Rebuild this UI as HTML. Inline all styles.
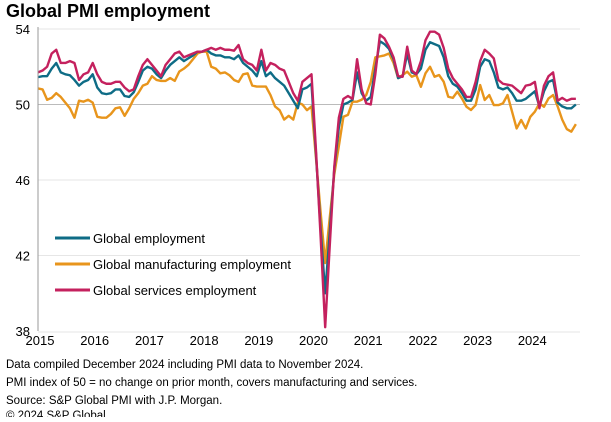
<!DOCTYPE html>
<html><head><meta charset="utf-8"><style>
body{margin:0;width:611px;height:417px;background:#fff;font-family:"Liberation Sans",Arial,sans-serif;overflow:hidden}
</style></head><body>
<svg width="611" height="417" font-family="Liberation Sans, Arial, sans-serif">
<text x="6" y="17" font-size="18" font-weight="bold" fill="#000">Global PMI employment</text>
<g id="grid"></g><g id="series"></g><g id="axes"></g>
<g>
<line x1="55" y1="238" x2="90" y2="238" stroke="#0e6c86" stroke-width="3"/>
<text x="93" y="243" font-size="13">Global employment</text>
<line x1="55" y1="264" x2="90" y2="264" stroke="#e8951c" stroke-width="3"/>
<text x="93" y="269" font-size="13">Global manufacturing employment</text>
<line x1="55" y1="290" x2="90" y2="290" stroke="#c4215e" stroke-width="3"/>
<text x="93" y="295" font-size="13">Global services employment</text>
</g>
<g font-size="11.5" fill="#000">
<text x="6" y="368">Data compiled December 2024 including PMI data to November 2024.</text>
<text x="6" y="386">PMI index of 50 = no change on prior month, covers manufacturing and services.</text>
<text x="6" y="404">Source: S&amp;P Global PMI with J.P. Morgan.</text>
<text x="6" y="419">© 2024 S&amp;P Global.</text>
</g>
</svg>
<script>
const yTicks=[38,42,46,50,54];
const years=["2015","2016","2017","2018","2019","2020","2021","2022","2023","2024"];
const services=[51.7,51.8,52.0,52.7,52.9,52.2,52.2,52.3,52.2,51.3,51.6,51.7,
52.2,51.6,51.2,51.1,51.1,51.2,51.2,50.9,50.7,50.8,51.5,52.1,
52.4,52.1,51.8,51.5,52.1,52.4,52.7,52.8,52.5,52.6,52.7,52.8,
52.8,52.9,53.0,52.9,53.0,52.9,52.9,52.85,53.15,52.4,52.2,52.1,
51.8,52.9,51.8,52.2,52.1,51.9,51.8,51.2,50.6,50.2,51.2,51.4,
51.6,47.5,43.0,38.2,42.5,46.7,49.3,50.3,50.45,50.3,52.4,50.8,
50.06,50.0,51.6,53.7,53.5,53.06,52.5,51.5,51.47,53.06,51.8,51.6,
52.3,53.4,53.86,53.86,53.7,53.0,51.9,51.4,51.1,50.8,50.4,50.4,
51.2,52.3,52.9,52.7,52.44,51.3,51.1,51.05,51.0,50.8,50.6,51.0,
51.05,51.2,49.8,51.0,51.5,51.7,50.2,50.35,50.2,50.3,50.3];
const manufacturing=[50.85,50.8,50.25,50.35,50.6,50.4,50.1,49.8,49.3,50.2,50.15,50.25,
50.1,49.35,49.3,49.3,49.5,49.8,49.85,49.4,49.8,50.3,50.6,51.0,
51.1,51.5,51.3,51.25,51.25,51.4,51.25,51.75,51.9,52.1,52.4,52.7,
52.8,52.8,52.0,51.9,51.65,51.7,51.55,51.3,51.2,51.6,51.65,51.0,
50.95,50.95,50.95,50.5,49.9,49.7,49.2,49.4,49.2,50.1,50.0,49.7,
49.9,47.1,44.3,41.6,44.0,46.3,47.8,49.35,49.45,50.15,50.15,50.25,
50.5,51.2,52.5,52.55,52.6,52.7,52.2,51.4,51.56,51.74,51.47,51.56,
50.94,51.65,52.0,51.47,51.56,51.21,50.41,50.35,50.68,50.32,49.88,49.71,
49.97,51.03,50.24,50.5,49.97,49.97,50.06,50.5,49.62,48.73,49.18,48.73,
49.35,49.62,50.06,49.88,50.32,50.5,49.9,49.2,48.7,48.56,48.96];
const employment=[51.45,51.5,51.5,51.9,52.2,51.7,51.6,51.55,51.3,51.0,51.2,51.3,
51.6,50.9,50.6,50.55,50.6,50.8,50.8,50.45,50.4,50.65,51.2,51.8,
52.0,51.9,51.6,51.4,51.8,52.1,52.3,52.5,52.3,52.45,52.6,52.8,
52.8,52.9,52.7,52.6,52.6,52.5,52.5,52.4,52.6,52.2,52.0,51.8,
51.5,52.3,51.5,51.7,51.4,51.2,51.0,50.6,50.2,49.8,50.8,50.9,
51.1,47.3,43.4,40.0,43.2,46.6,48.8,50.0,50.1,50.25,51.7,50.6,
50.2,50.4,51.9,53.35,53.2,52.95,52.4,51.4,51.5,52.7,51.7,51.6,
51.9,52.9,53.3,53.2,53.1,52.5,51.5,51.1,50.95,50.6,50.2,50.2,
50.8,52.0,52.4,52.3,51.7,50.9,50.8,50.9,50.6,50.2,50.2,50.3,
50.5,50.7,49.9,50.7,51.2,51.3,50.1,49.9,49.8,49.8,50.0];
const NS="http://www.w3.org/2000/svg";
const X0=38,YEARW=54.7,Y54=29,Y38=331,XEND=580;
function xScale(i){return X0+i*YEARW/12;}
function yScale(v){return Y38-(v-38)*(Y38-Y54)/16;}
function mk(t,a,p){const e=document.createElementNS(NS,t);for(const k in a)e.setAttribute(k,a[k]);p.appendChild(e);return e;}
const grid=document.getElementById('grid'),axes=document.getElementById('axes'),ser=document.getElementById('series');
yTicks.forEach(v=>{
  const y=yScale(v);
  if(v!==38){const l=mk('line',{x1:X0,x2:XEND,y1:y,y2:y,stroke:v===50?'#bbbbbb':'#e6e6e6','stroke-width':1},grid);
  
  }
  const t=mk('text',{x:30,y:y+5,'font-size':13,'text-anchor':'end'},axes);t.textContent=v;
  
  
});
const ya=mk('line',{x1:X0,x2:X0,y1:Y54-2,y2:Y38,stroke:'#999','stroke-width':1},axes);


const xa=mk('line',{x1:X0,x2:XEND,y1:Y38+1,y2:Y38+1,stroke:'#e6e6e6','stroke-width':1},axes);


years.forEach((yr,k)=>{
  const t=mk('text',{x:xScale(k*12)+2,y:345,'font-size':13,'text-anchor':'middle'},axes);t.textContent=yr;
  
  
});
function line(data,color,name){
  const d=data.map((v,i)=>(i?'L':'M')+xScale(i).toFixed(2)+' '+yScale(v).toFixed(2)).join(' ');
  const p=mk('path',{d:d,fill:'none',stroke:color,'stroke-width':2.4,'stroke-linejoin':'round'},ser);
  
  
}
line(manufacturing,'#e8951c','manufacturing-line');
line(employment,'#0e6c86','employment-line');
line(services,'#c4215e','services-line');
</script>
</body></html>
